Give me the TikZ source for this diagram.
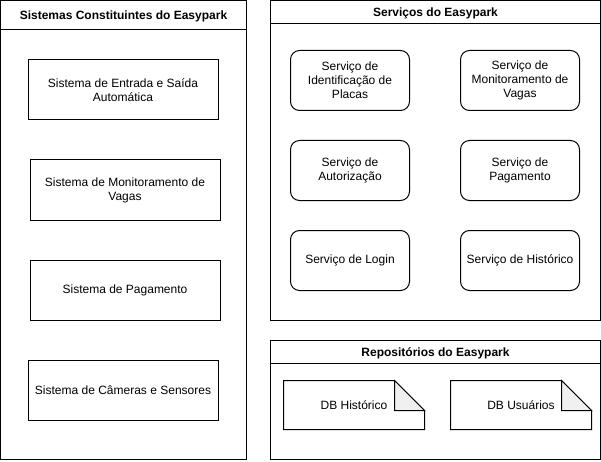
\documentclass[tikz,border=0pt]{standalone}
\usepackage{fontspec}
\setmainfont{Liberation Sans}
\begin{document}
\begin{tikzpicture}[x=1pt,y=-1pt,
  every node/.style={font=\fontsize{12}{14}\selectfont, align=center, inner sep=0pt},
  container/.style={draw=black, line width=1pt, fill=white},
  sysbox/.style={draw=black, line width=1pt, fill=white},
  svcbox/.style={draw=black, line width=1pt, rounded corners=9pt, fill=white},
  title/.style={font=\fontsize{12}{14}\selectfont\bfseries},
  notebody/.style={draw=black, line width=1pt, fill=white},
  notefold/.style={draw=black, line width=1pt, fill=black!6}]
\useasboundingbox (0,0) rectangle (601,462);

% Left container
\draw[container] (0.5,0.5) rectangle (246.5,459.5);
\draw[line width=1pt] (0.5,30) -- (246.5,30);
\node[title] (t1) at (123.5,16) {Sistemas Constituintes do Easypark};

\draw[sysbox] (28,60) rectangle (218,120);
\node (s1) at (123,90) {Sistema de Entrada e Saída\\Automática};
\draw[sysbox] (30,160) rectangle (220,220);
\node (s2) at (125,190) {Sistema de Monitoramento de\\Vagas};
\draw[sysbox] (30,260) rectangle (220,320);
\node (s3) at (125,290) {Sistema de Pagamento};
\draw[sysbox] (28,360) rectangle (218,420);
\node (s4) at (123,390) {Sistema de Câmeras e Sensores};

% Services container
\draw[container] (270.5,0.5) rectangle (600.5,320.5);
\draw[line width=1pt] (270.5,23.5) -- (600.5,23.5);
\node[title] (t2) at (435.5,13) {Serviços do Easypark};

\draw[svcbox] (290.5,50.5) rectangle (409.5,110.5);
\node (v1) at (350,80.5) {Serviço de\\Identificação de\\Placas};
\draw[svcbox] (460.5,50.5) rectangle (579.5,110.5);
\node (v2) at (520,80.5) {Serviço de\\Monitoramento de\\Vagas};
\draw[svcbox] (290.5,140.5) rectangle (409.5,200.5);
\node (v3) at (350,170.5) {Serviço de\\Autorização};
\draw[svcbox] (460.5,140.5) rectangle (579.5,200.5);
\node (v4) at (520,170.5) {Serviço de\\Pagamento};
\draw[svcbox] (290.5,230.5) rectangle (409.5,290.5);
\node (v5) at (350,260.5) {Serviço de Login};
\draw[svcbox] (460.5,230.5) rectangle (579.5,290.5);
\node (v6) at (520,260.5) {Serviço de Histórico};

% Repositories container
\draw[container] (270.5,340.5) rectangle (600.5,459.5);
\draw[line width=1pt] (270.5,363.5) -- (600.5,363.5);
\node[title] (t3) at (435.5,353) {Repositórios do Easypark};

\draw[notebody] (283.5,380.5) -- (394.5,380.5) -- (424.5,410.5) -- (424.5,429.5) -- (283.5,429.5) -- cycle;
\draw[notefold] (394.5,380.5) -- (394.5,410.5) -- (424.5,410.5) -- cycle;
\node (d1) at (354,405) {DB Histórico};
\draw[notebody] (450.5,380.5) -- (561.5,380.5) -- (591.5,410.5) -- (591.5,429.5) -- (450.5,429.5) -- cycle;
\draw[notefold] (561.5,380.5) -- (561.5,410.5) -- (591.5,410.5) -- cycle;
\node (d2) at (521,405) {DB Usuários};
\end{tikzpicture}
\end{document}
